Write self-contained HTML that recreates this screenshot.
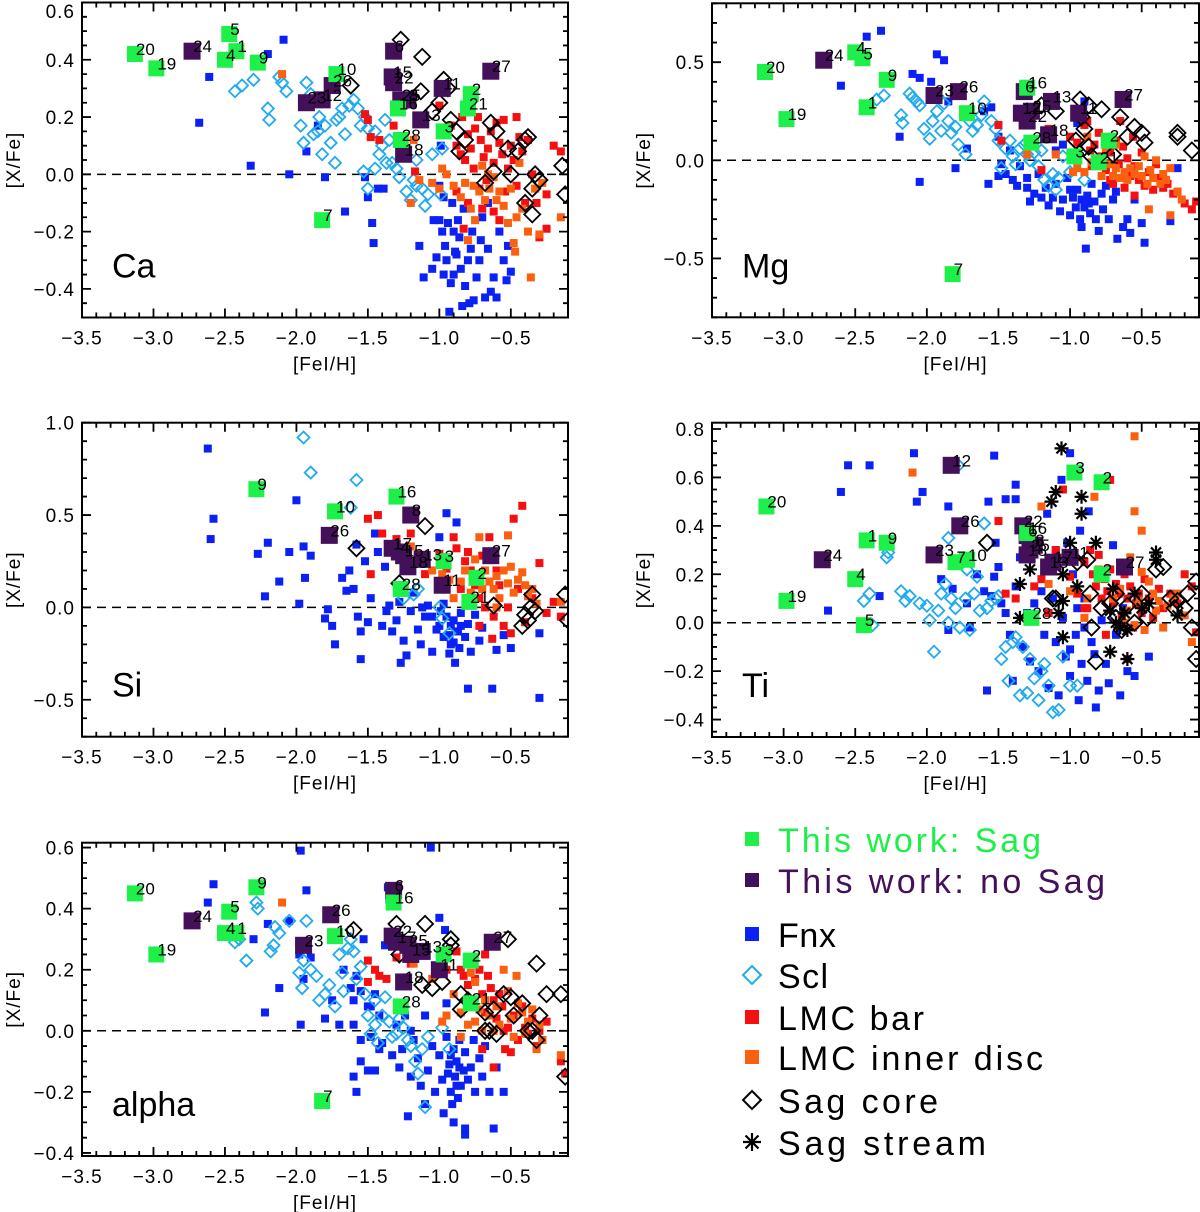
<!DOCTYPE html>
<html><head><meta charset="utf-8"><title>Abundance ratios</title>
<style>
html,body{margin:0;padding:0;background:#fff;}
svg{display:block;font-family:"Liberation Sans",sans-serif;}
</style></head>
<body>
<svg id="fig" width="1200" height="1212" viewBox="0 0 1200 1212" xmlns="http://www.w3.org/2000/svg"></svg>
<script>
// ---------- Shared ----------
const xTickLabels = ["\u22123.5","\u22123.0","\u22122.5","\u22122.0","\u22121.5","\u22121.0","\u22120.5"];
const xTickValues = [-3.5,-3.0,-2.5,-2.0,-1.5,-1.0,-0.5];

// ---------- Ca ----------
const caGreen = [[-3.13,0.42,"20"],[-2.98,0.37,"19"],[-2.47,0.49,"5"],[-2.42,0.43,"1"],[-2.5,0.40,"4"],[-2.27,0.39,"9"],[-1.72,0.35,"10"],[-0.97,0.15,"3"],[-0.78,0.28,"2"],[-0.8,0.23,"21"],[-1.27,0.12,"28"],[-1.29,0.23,"16"],[-1.82,-0.16,"7"]];
const caPurple = [[-2.73,0.43,"24"],[-1.93,0.25,"23"],[-1.82,0.26,"12"],[-1.75,0.31,"26"],[-1.32,0.43,"6"],[-1.33,0.34,"15"],[-1.32,0.32,"22"],[-1.27,0.26,"25"],[-1.22,0.26,"8"],[-0.98,0.30,"11"],[-1.13,0.19,"13"],[-1.25,0.07,"18"],[-0.64,0.36,"27"]];
const caBlue = [[-2.61,0.34],[-2.68,0.18],[-2.2,0.42],[-2.09,0.47],[-2.32,0.03],[-2.05,0.0],[-1.93,0.08],[-1.85,0.17],[-1.8,-0.01],[-1.66,-0.13],[-1.52,-0.01],[-1.5,-0.08],[-1.47,-0.17],[-1.46,-0.24],[-1.43,-0.05],[-1.39,-0.05],[-1.14,-0.25],[-1.11,-0.36],[-1.05,-0.33],[-1.02,-0.29],[-1.0,-0.16],[-0.98,-0.2],[-0.96,-0.25],[-0.95,-0.3],[-0.93,-0.48],[-0.92,-0.38],[-0.9,-0.35],[-0.88,-0.28],[-0.87,-0.16],[-0.86,-0.22],[-0.85,-0.33],[-0.84,-0.46],[-0.82,-0.39],[-0.8,-0.3],[-0.79,-0.45],[-0.78,-0.26],[-0.77,-0.2],[-0.76,-0.44],[-0.74,-0.36],[-0.72,-0.3],[-0.71,-0.23],[-0.7,-0.15],[-0.68,-0.43],[-0.66,-0.26],[-0.64,-0.41],[-0.62,-0.36],[-0.6,-0.43],[-0.58,-0.2],[-0.55,-0.3],[-0.53,-0.37],[-0.5,-0.34],[-0.52,-0.25],[-0.97,-0.08],[-0.91,-0.1],[-0.83,-0.12],[-0.66,-0.1],[-0.99,0.1],[-1.0,-0.04],[-0.94,-0.17],[-0.89,-0.27],[-1.04,-0.16],[-0.97,-0.35],[-0.9,-0.2]];
const caCyan = [[-2.43,0.29],[-2.38,0.31],[-2.3,0.33],[-2.2,0.23],[-2.19,0.19],[-2.12,0.34],[-2.1,0.32],[-2.07,0.29],[-1.97,0.17],[-1.95,0.11],[-1.93,0.32],[-1.9,0.28],[-1.88,0.14],[-1.85,0.15],[-1.84,0.2],[-1.82,0.07],[-1.8,0.17],[-1.76,0.11],[-1.73,0.04],[-1.72,0.19],[-1.7,0.2],[-1.68,0.23],[-1.66,0.14],[-1.63,0.24],[-1.6,0.26],[-1.57,0.23],[-1.55,0.17],[-1.52,0.2],[-1.5,0.16],[-1.53,0.01],[-1.5,-0.05],[-1.45,0.02],[-1.42,0.07],[-1.4,0.1],[-1.37,0.04],[-1.35,0.12],[-1.33,0.04],[-1.3,0.02],[-1.28,-0.01],[-1.26,0.07],[-1.23,-0.06],[-1.2,-0.09],[-1.18,-0.02],[-1.16,-0.04],[-1.12,-0.05],[-1.1,-0.11],[-1.08,-0.07],[-1.05,0.07],[-0.99,-0.07],[-0.98,0.09],[-1.16,0.05],[-1.38,0.19],[-1.45,0.15]];
const caRed = [[-1.52,0.21],[-1.5,0.19],[-1.48,0.13],[-1.42,0.12],[-1.32,0.17],[-1.17,0.01],[-1.1,0.2],[-1.0,0.24],[-0.92,0.17],[-0.88,0.1],[-0.85,0.07],[-0.82,0.05],[-0.8,0.14],[-0.78,0.09],[-0.76,0.02],[-0.75,0.16],[-0.73,0.2],[-0.71,0.12],[-0.69,0.06],[-0.67,-0.02],[-0.66,0.09],[-0.64,0.15],[-0.62,0.04],[-0.6,0.18],[-0.58,0.11],[-0.56,0.07],[-0.54,-0.06],[-0.52,0.02],[-0.5,0.1],[-0.48,0.05],[-0.46,-0.04],[-0.44,0.13],[-0.42,0.08],[-0.4,-0.1],[-0.38,0.12],[-0.35,0.0],[-0.32,-0.1],[-0.3,-0.22],[-0.25,-0.19],[-0.2,0.1],[-0.15,0.08],[-0.55,0.19],[-0.88,-0.06],[-0.8,-0.1],[-0.7,-0.12],[-0.62,-0.13],[-0.58,-0.16],[-0.83,-0.19],[-0.72,-0.05],[-0.25,-0.07],[-0.46,0.2],[-0.84,0.2]];
const caOrange = [[-2.1,0.35],[-1.2,-0.1],[-1.14,-0.02],[-1.05,-0.03],[-1.0,-0.05],[-0.98,0.02],[-0.95,0.0],[-0.9,-0.04],[-0.85,-0.08],[-0.82,-0.03],[-0.8,-0.23],[-0.78,-0.12],[-0.75,-0.16],[-0.72,-0.06],[-0.7,0.03],[-0.68,-0.09],[-0.65,-0.05],[-0.62,-0.01],[-0.6,-0.09],[-0.58,-0.06],[-0.55,-0.11],[-0.52,-0.17],[-0.5,-0.05],[-0.48,-0.24],[-0.47,-0.27],[-0.46,-0.15],[-0.44,0.04],[-0.42,-0.12],[-0.38,-0.2],[-0.36,-0.36],[-0.33,-0.05],[-0.3,-0.21],[-0.28,-0.03],[-0.15,-0.15],[-1.18,0.12],[-0.76,-0.04],[-0.66,0.0]];
const caCore = [[-1.27,0.47],[-1.12,0.41],[-1.62,0.31],[-0.97,0.33],[-0.94,0.3],[-1.13,0.29],[-1.0,0.25],[-1.05,0.22],[-0.92,0.19],[-0.88,0.15],[-0.82,0.12],[-0.86,0.08],[-0.64,0.18],[-0.6,0.15],[-0.52,0.09],[-0.45,0.08],[-0.4,0.12],[-0.38,0.13],[-0.68,-0.03],[-0.62,0.01],[-0.5,0.0],[-0.35,-0.05],[-0.3,-0.02],[-0.4,-0.1],[-0.35,-0.14],[-0.33,0.0],[-0.14,0.03],[-0.12,-0.07]];
const caStream = [];

// ---------- Mg ----------
const mgGreen = [[-3.13,0.45,"20"],[-2.98,0.21,"19"],[-2.5,0.55,"4"],[-2.45,0.52,"5"],[-2.42,0.27,"1"],[-2.28,0.41,"9"],[-1.72,0.24,"10"],[-1.3,0.37,"16"],[-1.27,0.09,"28"],[-0.97,0.02,"3"],[-0.73,0.1,"2"],[-0.8,-0.01,"21"],[-1.82,-0.58,"7"]];
const mgPurple = [[-2.72,0.51,"24"],[-1.95,0.33,"23"],[-1.78,0.35,"26"],[-1.13,0.3,"13"],[-1.34,0.24,"12"],[-1.3,0.2,"22"],[-1.27,0.25,"25"],[-0.94,0.24,"11"],[-1.15,0.13,"18"],[-0.63,0.31,"27"],[-1.32,0.35,"6"]];
const mgBlue = [[-2.6,0.38],[-2.42,0.63],[-2.32,0.66],[-2.19,0.12],[-2.1,0.44],[-2.05,0.42],[-2.05,-0.11],[-1.97,0.4],[-1.93,0.54],[-1.88,0.51],[-1.85,0.3],[-1.8,-0.04],[-1.72,0.06],[-1.6,0.25],[-1.57,-0.12],[-1.55,0.27],[-1.5,-0.08],[-1.48,-0.02],[-1.45,-0.07],[-1.42,0.05],[-1.4,-0.1],[-1.37,-0.13],[-1.35,-0.03],[-1.3,-0.09],[-1.28,-0.21],[-1.25,-0.17],[-1.22,-0.07],[-1.2,-0.19],[-1.17,-0.14],[-1.15,-0.23],[-1.12,-0.19],[-1.1,-0.12],[-1.07,-0.26],[-1.05,-0.2],[-1.02,-0.09],[-1.0,-0.28],[-0.98,-0.19],[-0.96,-0.24],[-0.95,-0.15],[-0.93,-0.3],[-0.92,-0.34],[-0.9,-0.24],[-0.89,-0.45],[-0.88,-0.18],[-0.86,-0.27],[-0.85,-0.12],[-0.83,-0.21],[-0.82,-0.3],[-0.8,-0.36],[-0.78,-0.17],[-0.77,-0.25],[-0.75,-0.13],[-0.73,-0.3],[-0.7,-0.2],[-0.68,-0.16],[-0.67,-0.4],[-0.63,-0.34],[-0.6,-0.3],[-0.58,-0.37],[-0.55,-0.2],[-0.5,-0.32],[-0.48,-0.42],[-0.3,-0.31],[-0.25,-0.04],[-1.05,0.08],[-1.1,0.05],[-0.9,0.3],[-0.95,0.19],[-1.5,0.12],[-1.3,-0.14],[-0.92,-0.2],[-0.87,-0.22],[-1.0,-0.15]];
const mgCyan = [[-2.35,0.31],[-2.3,0.33],[-2.18,0.23],[-2.17,0.19],[-2.12,0.34],[-2.1,0.32],[-2.07,0.3],[-2.05,0.28],[-2.02,0.16],[-1.98,0.11],[-1.96,0.2],[-1.93,0.25],[-1.9,0.15],[-1.88,0.29],[-1.85,0.2],[-1.83,0.14],[-1.8,0.17],[-1.78,0.08],[-1.73,0.03],[-1.7,0.2],[-1.68,0.15],[-1.65,0.18],[-1.62,0.23],[-1.6,0.3],[-1.55,0.2],[-1.52,0.16],[-1.5,0.1],[-1.48,-0.04],[-1.45,0.06],[-1.42,0.1],[-1.4,0.02],[-1.38,-0.02],[-1.35,0.06],[-1.32,0.08],[-1.3,0.03],[-1.28,0.0],[-1.25,0.04],[-1.22,-0.03],[-1.2,0.05],[-1.18,-0.1],[-1.15,-0.13],[-1.12,-0.07],[-1.1,-0.15],[-1.08,-0.09],[-1.05,0.02],[-0.9,-0.1],[-1.0,-0.06]];
const mgRed = [[-1.5,0.18],[-1.48,0.1],[-1.35,0.26],[-1.2,-0.05],[-1.15,0.16],[-1.0,0.12],[-0.95,0.09],[-0.9,0.18],[-0.88,0.2],[-0.86,0.05],[-0.85,-0.03],[-0.83,0.08],[-0.8,0.14],[-0.78,0.02],[-0.75,-0.05],[-0.72,0.04],[-0.7,-0.12],[-0.68,0.1],[-0.66,-0.02],[-0.63,0.07],[-0.62,-0.14],[-0.6,0.01],[-0.58,-0.08],[-0.56,0.12],[-0.55,-0.03],[-0.52,-0.1],[-0.5,0.04],[-0.48,-0.13],[-0.45,-0.06],[-0.42,-0.15],[-0.4,-0.02],[-0.38,-0.09],[-0.35,-0.14],[-0.32,-0.12],[-0.28,-0.17],[-0.25,-0.16],[-0.2,-0.22],[-0.15,-0.25],[-0.12,-0.21],[-0.65,0.2],[-0.55,-0.18],[-0.72,-0.1]];
const mgOrange = [[-1.3,0.03],[-1.1,0.03],[-0.98,-0.06],[-0.95,-0.04],[-0.9,-0.06],[-0.85,-0.01],[-0.8,-0.03],[-0.78,-0.08],[-0.75,0.06],[-0.72,-0.02],[-0.7,-0.08],[-0.68,-0.04],[-0.65,-0.09],[-0.62,-0.06],[-0.6,-0.1],[-0.58,-0.04],[-0.55,-0.07],[-0.52,-0.03],[-0.5,-0.08],[-0.48,0.02],[-0.46,-0.12],[-0.44,-0.05],[-0.42,-0.09],[-0.4,0.0],[-0.37,-0.12],[-0.35,-0.07],[-0.33,-0.1],[-0.3,-0.28],[-0.3,-0.04],[-0.25,-0.16],[-0.22,-0.2],[-0.45,-0.25],[-0.88,0.12],[-0.68,0.08]];
const mgCore = [[-0.93,0.31],[-0.87,0.28],[-0.78,0.26],[-0.92,0.22],[-0.65,0.22],[-0.55,0.17],[-0.5,0.14],[-0.6,0.12],[-0.48,0.09],[-0.96,0.1],[-0.87,0.07],[-0.85,0.02],[-0.7,0.03],[-0.25,0.14],[-0.25,0.12],[-0.15,0.05],[-1.2,0.28],[-1.1,0.25],[-0.9,0.16]];
const mgStream = [];

// ---------- Si ----------
const siGreen = [[-2.28,0.64,"9"],[-1.73,0.52,"10"],[-1.3,0.6,"16"],[-0.97,0.25,"3"],[-0.74,0.16,"2"],[-1.27,0.1,"28"],[-0.79,0.03,"21"]];
const siPurple = [[-1.77,0.39,"26"],[-1.2,0.5,"8"],[-1.33,0.32,"17"],[-1.28,0.3,"4"],[-1.25,0.28,"15"],[-1.12,0.26,"13"],[-1.22,0.22,"18"],[-0.98,0.12,"11"],[-0.64,0.28,"27"]];
const siBlue = [[-2.62,0.86],[-2.6,0.37],[-2.58,0.48],[-2.27,0.29],[-2.2,0.35],[-2.22,0.06],[-2.12,0.14],[-2.05,0.3],[-2.0,0.58],[-1.98,0.02],[-1.95,0.33],[-1.94,0.16],[-1.9,0.28],[-1.8,-0.06],[-1.78,-0.01],[-1.75,-0.1],[-1.73,-0.2],[-1.68,0.16],[-1.65,0.09],[-1.63,0.2],[-1.6,0.1],[-1.58,0.34],[-1.57,-0.05],[-1.55,-0.13],[-1.55,-0.28],[-1.52,0.25],[-1.5,-0.08],[-1.48,0.05],[-1.45,0.4],[-1.43,0.3],[-1.4,-0.1],[-1.38,0.22],[-1.37,-0.02],[-1.35,0.01],[-1.33,-0.13],[-1.3,-0.07],[-1.28,0.03],[-1.27,-0.3],[-1.25,-0.18],[-1.23,-0.26],[-1.2,-0.02],[-1.18,0.08],[-1.15,-0.12],[-1.13,-0.2],[-1.1,-0.05],[-1.08,0.01],[-1.05,-0.24],[-1.02,-0.12],[-1.0,0.38],[-0.99,-0.02],[-0.97,-0.16],[-0.95,0.51],[-0.93,-0.25],[-0.92,-0.2],[-0.9,-0.07],[-0.89,-0.3],[-0.88,0.46],[-0.87,-0.13],[-0.86,-0.22],[-0.85,-0.03],[-0.82,-0.16],[-0.8,-0.09],[-0.78,-0.24],[-0.75,-0.04],[-0.72,-0.18],[-0.7,-0.11],[-0.8,-0.44],[-0.63,-0.44],[-0.6,-0.23],[-0.55,-0.15],[-0.5,-0.22],[-0.3,-0.49],[-0.3,-0.14],[-1.0,-0.1],[-0.95,-0.05],[-0.93,-0.15],[-0.9,-0.19],[-0.85,-0.1],[-0.97,0.02],[-1.05,-0.05],[-0.92,-0.1],[-1.12,0.0]];
const siCyan = [[-1.95,0.92],[-1.9,0.73],[-1.58,0.69],[-1.62,0.54],[-1.25,0.05],[-1.18,0.07],[-1.15,0.1],[-0.98,-0.06],[-0.93,-0.14],[-1.0,0.0]];
const siRed = [[-1.5,0.48],[-1.43,0.5],[-1.4,0.4],[-1.3,0.37],[-1.2,0.4],[-1.1,0.18],[-1.0,0.29],[-0.95,0.21],[-0.9,0.38],[-0.88,0.32],[-0.85,0.1],[-0.82,0.25],[-0.8,0.3],[-0.78,0.2],[-0.75,0.12],[-0.72,0.05],[-0.7,0.28],[-0.68,0.0],[-0.65,0.38],[-0.62,-0.05],[-0.6,0.2],[-0.58,0.12],[-0.55,-0.1],[-0.52,0.0],[-0.5,-0.14],[-0.48,0.48],[-0.45,0.1],[-0.42,0.55],[-0.4,-0.08],[-0.35,0.05],[-0.3,0.24],[-0.25,-0.03],[-0.2,0.03],[-0.15,-0.05],[-0.63,-0.17],[-0.72,-0.1],[-1.48,0.18]];
const siOrange = [[-1.2,0.33],[-1.15,0.29],[-1.05,0.2],[-0.98,0.18],[-0.93,0.15],[-0.9,0.05],[-0.85,0.14],[-0.82,0.2],[-0.78,0.08],[-0.75,0.26],[-0.72,0.16],[-0.7,0.1],[-0.68,0.2],[-0.65,0.14],[-0.62,0.1],[-0.6,0.17],[-0.58,0.05],[-0.55,0.2],[-0.52,0.13],[-0.5,0.22],[-0.48,0.08],[-0.45,0.15],[-0.42,0.19],[-0.4,0.12],[-0.38,0.06],[-0.35,0.1],[-0.32,0.02],[-0.15,0.03],[-0.52,0.39],[-0.72,0.38],[-0.6,0.0]];
const siCore = [[-1.1,0.44],[-1.58,0.32],[-1.28,0.13],[-0.62,0.01],[-0.35,0.07],[-0.4,-0.04],[-0.38,-0.07],[-0.36,0.0],[-0.33,-0.02],[-0.42,-0.1],[-0.12,0.07],[-0.1,-0.07]];
const siStream = [];

// ---------- Ti ----------
const tiGreen = [[-3.12,0.48,"20"],[-2.98,0.09,"19"],[-2.5,0.18,"4"],[-2.44,-0.01,"5"],[-2.42,0.34,"1"],[-2.28,0.33,"9"],[-1.8,0.25,"7"],[-1.72,0.26,"10"],[-0.97,0.62,"3"],[-0.78,0.58,"2"],[-1.27,0.02,"28"],[-0.78,0.2,"2"],[-1.3,0.37,"16"]];
const tiPurple = [[-1.83,0.65,"12"],[-1.77,0.4,"26"],[-2.73,0.26,"24"],[-1.95,0.28,"23"],[-1.33,0.4,"22"],[-1.3,0.36,"6"],[-1.25,0.32,"8"],[-1.28,0.3,"25"],[-1.3,0.28,"18"],[-1.15,0.23,"13"],[-1.0,0.27,"11"],[-0.62,0.23,"27"],[-1.12,0.25,"17"]];
const tiBlue = [[-2.55,0.65],[-2.4,0.65],[-2.6,0.54],[-2.69,0.05],[-2.33,0.11],[-2.09,0.7],[-2.03,0.54],[-2.07,0.5],[-1.85,0.48],[-1.53,0.69],[-1.57,0.5],[-1.45,0.51],[-1.38,0.51],[-1.38,0.57],[-1.9,0.18],[-1.82,0.14],[-1.85,-0.03],[-1.72,0.08],[-1.7,-0.02],[-1.65,0.2],[-1.6,0.13],[-1.58,-0.28],[-1.55,0.11],[-1.53,0.19],[-1.52,0.33],[-1.5,0.23],[-1.48,0.08],[-1.45,0.04],[-1.42,-0.05],[-1.4,-0.24],[-1.38,0.15],[-1.35,0.27],[-1.33,-0.1],[-1.3,0.04],[-1.28,-0.16],[-1.25,0.08],[-1.22,-0.2],[-1.2,0.13],[-1.18,-0.05],[-1.16,0.45],[-1.15,-0.27],[-1.12,0.1],[-1.1,-0.08],[-1.08,-0.3],[-1.06,0.59],[-1.05,0.02],[-1.03,-0.14],[-1.0,0.7],[-1.0,-0.22],[-0.98,0.2],[-0.96,-0.05],[-0.94,-0.32],[-0.93,0.38],[-0.92,-0.17],[-0.9,0.1],[-0.88,-0.24],[-0.87,0.46],[-0.85,-0.08],[-0.83,-0.13],[-0.82,-0.35],[-0.8,-0.28],[-0.78,0.01],[-0.75,-0.17],[-0.73,-0.25],[-0.7,0.32],[-0.68,-0.05],[-0.65,-0.3],[-0.63,0.06],[-0.6,-0.2],[-0.55,-0.22],[-0.45,-0.14],[-1.0,-0.11],[-0.95,0.06],[-1.02,0.33],[-1.1,0.3],[-0.9,-0.02]];
const tiCyan = [[-2.44,0.09],[-2.4,0.12],[-2.38,-0.01],[-2.28,0.27],[-2.27,0.29],[-2.18,0.13],[-2.15,0.09],[-2.12,0.11],[-2.05,0.08],[-2.0,0.07],[-1.98,0.01],[-1.95,-0.12],[-1.92,0.05],[-1.9,0.12],[-1.87,0.16],[-1.85,0.0],[-1.83,0.1],[-1.8,0.06],[-1.77,-0.02],[-1.73,0.1],[-1.7,-0.03],[-1.67,0.12],[-1.65,0.19],[-1.63,0.05],[-1.6,0.41],[-1.58,0.06],[-1.55,0.09],[-1.52,0.1],[-1.5,0.11],[-1.48,-0.15],[-1.45,-0.1],[-1.43,-0.24],[-1.4,-0.08],[-1.38,-0.06],[-1.35,-0.3],[-1.33,-0.1],[-1.3,-0.29],[-1.28,-0.15],[-1.25,-0.23],[-1.22,-0.32],[-1.2,-0.2],[-1.18,-0.17],[-1.15,-0.26],[-1.12,-0.37],[-1.08,-0.36],[-1.05,-0.14],[-1.0,-0.26],[-0.95,-0.26],[-1.78,0.65],[-1.85,0.35],[-1.72,0.22]];
const tiRed = [[-1.5,0.42],[-1.45,0.12],[-1.38,0.1],[-1.3,0.35],[-1.25,0.15],[-1.2,0.18],[-1.15,0.04],[-1.1,0.3],[-1.05,0.55],[-1.0,0.19],[-0.95,0.12],[-0.9,0.25],[-0.88,0.06],[-0.86,0.3],[-0.84,0.2],[-0.82,0.15],[-0.8,0.28],[-0.78,0.1],[-0.76,0.18],[-0.74,0.13],[-0.72,0.22],[-0.7,0.08],[-0.68,0.16],[-0.66,0.12],[-0.64,0.03],[-0.62,0.2],[-0.6,0.1],[-0.58,0.15],[-0.56,-0.02],[-0.54,0.08],[-0.52,0.12],[-0.5,0.04],[-0.48,0.18],[-0.45,0.1],[-0.42,0.02],[-0.38,0.14],[-0.35,0.06],[-0.3,0.12],[-0.25,0.08],[-0.2,0.2],[-0.15,0.15],[-0.12,-0.04],[-0.72,0.59],[-0.9,0.06],[-0.6,-0.15],[-0.75,-0.05]];
const tiOrange = [[-2.1,0.62],[-1.2,0.48],[-0.88,0.1],[-0.83,0.52],[-0.55,0.46],[-0.55,0.77],[-0.5,0.38],[-0.5,0.21],[-0.45,0.17],[-0.42,0.12],[-0.4,0.05],[-0.38,0.09],[-0.35,-0.02],[-0.32,0.07],[-0.28,0.1],[-0.25,0.12],[-0.2,0.03],[-0.15,-0.08],[-0.7,0.1],[-0.65,0.14],[-0.6,0.05],[-0.58,0.27],[-0.52,0.09],[-0.48,-0.03],[-0.55,-0.01],[-0.62,0.0],[-0.8,0.22],[-0.9,0.02],[-1.0,0.13],[-1.15,0.16]];
const tiCore = [[-1.58,0.33],[-1.1,0.1],[-0.95,0.25],[-0.88,0.26],[-0.82,-0.16],[-0.86,0.12],[-0.85,-0.02],[-0.78,0.06],[-0.72,0.08],[-0.68,0.02],[-0.64,-0.03],[-0.6,0.07],[-0.55,0.0],[-0.5,0.12],[-0.46,0.02],[-0.4,0.22],[-0.35,0.23],[-0.3,0.1],[-0.27,0.06],[-0.25,0.09],[-0.2,0.06],[-0.18,0.12],[-0.12,0.17],[-0.15,-0.02],[-0.12,-0.15],[-0.68,0.12],[-1.12,0.1]];
const tiStream = [[-1.06,0.72],[-1.1,0.54],[-1.13,0.5],[-0.92,0.52],[-0.92,0.45],[-0.82,0.33],[-1.0,0.33],[-1.28,0.22],[-1.35,0.16],[-1.05,0.2],[-0.98,0.26],[-0.95,0.15],[-1.05,0.09],[-1.08,0.04],[-1.35,0.02],[-1.05,-0.06],[-0.7,0.14],[-0.72,0.05],[-0.68,0.0],[-0.65,-0.02],[-0.62,0.04],[-0.6,-0.03],[-0.55,0.12],[-0.5,0.06],[-0.72,-0.12],[-0.6,-0.15],[-0.4,0.29],[-0.4,0.26],[-0.25,0.03],[-0.45,0.08]];

// ---------- alpha ----------
const alGreen = [[-3.13,0.45,"20"],[-2.98,0.25,"19"],[-2.28,0.47,"9"],[-2.47,0.39,"5"],[-2.5,0.32,"4"],[-2.42,0.32,"1"],[-1.73,0.31,"10"],[-1.32,0.42,"16"],[-0.97,0.25,"3"],[-0.78,0.23,"2"],[-1.27,0.08,"28"],[-0.78,0.09,"21"],[-1.82,-0.23,"7"]];
const alPurple = [[-2.73,0.36,"24"],[-1.95,0.28,"23"],[-1.76,0.38,"26"],[-1.32,0.46,"6"],[-1.33,0.31,"22"],[-1.3,0.29,"17"],[-1.22,0.28,"25"],[-1.2,0.25,"15"],[-1.0,0.2,"11"],[-1.25,0.16,"18"],[-0.63,0.29,"27"],[-1.12,0.26,"13"]];
const alBlue = [[-2.58,0.48],[-2.62,0.42],[-2.2,0.35],[-2.3,0.3],[-1.97,0.59],[-1.93,0.46],[-2.05,0.36],[-2.12,0.14],[-2.22,0.06],[-1.98,0.25],[-1.95,0.17],[-1.9,0.24],[-1.97,0.02],[-1.8,0.04],[-1.75,0.1],[-1.7,0.02],[-1.67,0.2],[-1.62,0.14],[-1.6,0.1],[-1.58,0.18],[-1.55,0.13],[-1.53,0.3],[-1.5,0.08],[-1.48,-0.02],[-1.45,0.12],[-1.42,0.05],[-1.4,-0.04],[-1.38,0.28],[-1.36,0.47],[-1.35,0.43],[-1.33,-0.08],[-1.3,0.02],[-1.28,-0.12],[-1.26,-0.06],[-1.24,0.05],[-1.22,-0.28],[-1.2,-0.15],[-1.18,-0.03],[-1.15,-0.09],[-1.13,-0.18],[-1.1,-0.24],[-1.08,-0.13],[-1.06,0.6],[-1.05,-0.05],[-1.03,-0.2],[-1.0,0.37],[-1.0,-0.08],[-0.98,-0.16],[-0.97,-0.27],[-0.96,0.33],[-0.95,-0.02],[-0.93,-0.11],[-0.92,-0.2],[-0.91,-0.24],[-0.9,-0.06],[-0.89,-0.15],[-0.88,-0.1],[-0.87,-0.22],[-0.86,-0.03],[-0.85,-0.18],[-0.83,-0.13],[-0.82,-0.07],[-0.8,-0.16],[-0.78,-0.12],[-0.76,-0.03],[-0.75,-0.2],[-0.72,-0.09],[-0.7,-0.15],[-0.68,-0.05],[-0.65,-0.2],[-0.62,-0.32],[-0.6,-0.12],[-0.55,-0.2],[-0.82,-0.34],[-0.82,-0.32],[-1.6,-0.15],[-1.58,-0.2],[-1.55,-0.1],[-1.5,-0.13],[-1.45,-0.13],[-1.42,-0.06],[-1.55,-0.03],[-1.6,0.02],[-1.48,0.08],[-1.2,0.0],[-1.1,0.05],[-0.95,0.09],[-0.9,-0.3],[-0.94,-0.14],[-0.88,-0.18],[-0.86,-0.12],[-0.92,-0.08]];
const alCyan = [[-2.28,0.42],[-2.27,0.4],[-2.35,0.23],[-2.4,0.3],[-2.43,0.29],[-2.15,0.34],[-2.12,0.32],[-2.18,0.26],[-2.16,0.28],[-2.05,0.36],[-1.93,0.36],[-1.95,0.23],[-1.98,0.19],[-1.96,0.14],[-1.9,0.2],[-1.86,0.18],[-1.84,0.1],[-1.8,0.12],[-1.77,0.15],[-1.73,0.08],[-1.7,0.25],[-1.68,0.19],[-1.67,0.13],[-1.64,0.27],[-1.62,0.3],[-1.6,0.26],[-1.58,0.17],[-1.55,0.21],[-1.52,0.12],[-1.5,0.05],[-1.48,-0.01],[-1.45,0.02],[-1.43,-0.04],[-1.4,0.05],[-1.38,0.11],[-1.35,0.03],[-1.33,-0.02],[-1.3,-0.01],[-1.28,0.04],[-1.25,0.01],[-1.22,-0.03],[-1.2,-0.05],[-1.17,-0.1],[-1.15,-0.14],[-1.12,-0.06],[-1.1,-0.25],[-1.08,-0.02],[-0.98,0.01],[-0.93,-0.06],[-1.45,0.1]];
const alRed = [[-1.5,0.23],[-1.45,0.2],[-1.42,0.18],[-1.37,0.17],[-1.5,0.16],[-1.3,0.24],[-1.2,0.22],[-0.88,0.26],[-0.85,0.2],[-0.83,0.18],[-0.8,0.15],[-0.78,0.1],[-0.75,0.17],[-0.72,0.2],[-0.7,0.12],[-0.68,0.06],[-0.66,0.18],[-0.64,0.14],[-0.62,0.1],[-0.6,0.04],[-0.58,0.12],[-0.56,0.08],[-0.54,-0.06],[-0.52,0.01],[-0.5,-0.07],[-0.48,0.05],[-0.45,-0.03],[-0.42,0.08],[-0.4,0.01],[-0.38,-0.01],[-0.35,0.04],[-0.32,-0.05],[-0.3,0.0],[-0.28,-0.03],[-0.25,0.03],[-0.15,-0.1],[-0.12,-0.14],[-0.7,-0.06],[-0.62,-0.12],[-0.55,0.0],[-0.95,0.2],[-0.68,0.25]];
const alOrange = [[-2.1,0.42],[-1.18,0.22],[-1.05,0.17],[-0.98,0.03],[-0.95,0.05],[-0.9,0.12],[-0.85,0.06],[-0.8,0.02],[-0.78,0.19],[-0.75,0.03],[-0.72,0.07],[-0.7,0.0],[-0.68,0.1],[-0.65,0.05],[-0.62,0.0],[-0.6,0.08],[-0.58,0.02],[-0.55,0.2],[-0.52,0.13],[-0.5,0.04],[-0.48,-0.02],[-0.45,0.09],[-0.42,0.06],[-0.4,-0.01],[-0.38,0.03],[-0.35,0.07],[-0.32,-0.06],[-0.3,0.02],[-0.28,-0.03],[-0.15,-0.08],[-0.75,0.16],[-0.85,-0.02],[-0.46,0.18]];
const alCore = [[-1.6,0.33],[-1.3,0.35],[-1.1,0.35],[-1.28,0.25],[-0.92,0.3],[-0.92,0.28],[-0.98,0.16],[-1.12,0.15],[-1.05,0.14],[-0.85,0.12],[-0.8,0.1],[-0.85,0.07],[-0.68,0.06],[-0.52,0.3],[-0.32,0.22],[-0.55,0.12],[-0.5,0.11],[-0.62,0.07],[-0.65,0.0],[-0.6,-0.01],[-0.48,0.05],[-0.42,0.09],[-0.38,0.0],[-0.35,0.0],[-0.32,-0.03],[-0.3,0.05],[-0.25,0.12],[-0.15,0.12],[-0.12,-0.15],[-0.68,0.0]];
const alStream = [];

// ---------- Drawing ----------
const NS = "http://www.w3.org/2000/svg";
const svg = document.getElementById("fig");
const C = {green:"#1ef04a", purple:"#45105a", blue:"#0a20f5", cyan:"#22aaee", red:"#f41010", orange:"#fa6010"};

function mk(tag, attrs, parent){
  const e = document.createElementNS(NS, tag);
  for (const k in attrs) e.setAttribute(k, attrs[k]);
  (parent||svg).appendChild(e);
  return e;
}
function fmt(v, dec){ const s = Math.abs(v).toFixed(dec); return (v < -1e-9 ? "\u2212" : "") + s; }

const panels = [
  {id:"ca", name:"Ca", L:82, R:568, T:2.5, B:317.5, ymin:-0.5, ymax:0.6, major:0.2, minor:0.05, dec:1, ytickVals:[-0.4,-0.2,0.0,0.2,0.4,0.6], green:caGreen, purple:caPurple, blue:caBlue, cyan:caCyan, red:caRed, orange:caOrange, core:caCore, stream:caStream},
  {id:"mg", name:"Mg", L:712, R:1199, T:3.3, B:317.3, ymin:-0.8, ymax:0.8, major:0.5, minor:0.1, dec:1, ytickVals:[-0.5,0.0,0.5], green:mgGreen, purple:mgPurple, blue:mgBlue, cyan:mgCyan, red:mgRed, orange:mgOrange, core:mgCore, stream:mgStream},
  {id:"si", name:"Si", L:82, R:568, T:422.7, B:736.7, ymin:-0.7, ymax:1.0, major:0.5, minor:0.1, dec:1, ytickVals:[-0.5,0.0,0.5,1.0], green:siGreen, purple:siPurple, blue:siBlue, cyan:siCyan, red:siRed, orange:siOrange, core:siCore, stream:siStream},
  {id:"ti", name:"Ti", L:712, R:1199, T:422.7, B:737, ymin:-0.472, ymax:0.826, major:0.2, minor:0.05, dec:1, ytickVals:[-0.4,-0.2,0.0,0.2,0.4,0.6,0.8], green:tiGreen, purple:tiPurple, blue:tiBlue, cyan:tiCyan, red:tiRed, orange:tiOrange, core:tiCore, stream:tiStream},
  {id:"alpha", name:"alpha", L:82, R:568, T:842.7, B:1156, ymin:-0.41, ymax:0.616, major:0.2, minor:0.05, dec:1, ytickVals:[-0.4,-0.2,0.0,0.2,0.4,0.6], green:alGreen, purple:alPurple, blue:alBlue, cyan:alCyan, red:alRed, orange:alOrange, core:alCore, stream:alStream}
];

panels.forEach(p => {
  const xmin = -3.5, xmax = -0.1;
  const sx = v => p.L + (v - xmin) / (xmax - xmin) * (p.R - p.L);
  const sy = v => p.B - (v - p.ymin) / (p.ymax - p.ymin) * (p.B - p.T);
  const g = mk("g", {});
  
  

  const clip = mk("clipPath", {id:"clip-"+p.id}, g);
  mk("rect", {x:p.L, y:p.T, width:p.R-p.L, height:p.B-p.T}, clip);

  const zl = mk("line", {x1:p.L, x2:p.R, y1:sy(0), y2:sy(0), stroke:"#000", "stroke-width":1.5, "stroke-dasharray":"9,6"}, g);
  
  

  const pts = mk("g", {"clip-path":"url(#clip-"+p.id+")"}, g);
  
  

  function sq(arr, color, size, nm){
    arr.forEach(d => {
      const r = mk("rect", {x:sx(d[0])-size/2, y:sy(d[1])-size/2, width:size, height:size, fill:color}, pts);
      
      
    });
  }
  function dia(arr, color, h, sw, nm){
    arr.forEach(d => {
      const cx = sx(d[0]), cy = sy(d[1]);
      const e = mk("polygon", {points:`${cx},${cy-h} ${cx+h},${cy} ${cx},${cy+h} ${cx-h},${cy}`, fill:"none", stroke:color, "stroke-width":sw}, pts);
      
      
    });
  }
  function star(arr, nm){
    arr.forEach(d => {
      const cx = sx(d[0]), cy = sy(d[1]), r = 7;
      const s = mk("path", {d:`M${cx-r},${cy}H${cx+r}M${cx},${cy-r}V${cy+r}M${cx-r*0.72},${cy-r*0.72}L${cx+r*0.72},${cy+r*0.72}M${cx-r*0.72},${cy+r*0.72}L${cx+r*0.72},${cy-r*0.72}`, stroke:"#000", "stroke-width":2.2, fill:"none"}, pts);
      
      
    });
  }
  sq(p.blue, C.blue, 8, "fnx-point");
  dia(p.cyan, C.cyan, 6, 1.8, "scl-point");
  sq(p.red, C.red, 8, "lmc-bar-point");
  sq(p.orange, C.orange, 8, "lmc-disc-point");
  dia(p.core, "#000", 8, 1.8, "sag-core-point");
  star(p.stream, "sag-stream-point");
  sq(p.purple, C.purple, 17, "this-work-nosag-point");
  sq(p.green, C.green, 16, "this-work-sag-point");
  [p.purple, p.green].forEach(arr => arr.forEach(d => {
    const t = mk("text", {x:sx(d[0])+1, y:sy(d[1])+1, "font-size":17, fill:"#000"}, pts);
    t.textContent = d[2];
    
    
  }));

  const fr = mk("rect", {x:p.L, y:p.T, width:p.R-p.L, height:p.B-p.T, fill:"none", stroke:"#000", "stroke-width":2}, g);
  
  

  let tp = "";
  for (let v = -3.5; v <= -0.1 + 1e-6; v += 0.1) {
    const isMaj = Math.abs(Math.round(v*2) - v*2) < 1e-6;
    const len = isMaj ? 9 : 5;
    const x = sx(v);
    tp += `M${x},${p.B}V${p.B-len}M${x},${p.T}V${p.T+len}`;
  }
  const n0 = Math.ceil(p.ymin / p.minor - 1e-6), n1 = Math.floor(p.ymax / p.minor + 1e-6);
  for (let n = n0; n <= n1; n++) {
    const v = n * p.minor;
    const isMaj = Math.abs(Math.round(v / p.major) - v / p.major) < 1e-6;
    const len = isMaj ? 9 : 5;
    const y = sy(v);
    tp += `M${p.L},${y}H${p.L+len}M${p.R},${y}H${p.R-len}`;
  }
  const tk = mk("path", {d:tp, stroke:"#000", "stroke-width":1.8, fill:"none"}, g);
  
  

  xTickValues.forEach((v, i) => {
    const t = mk("text", {x:sx(v), y:p.B+27, "font-size":19, "letter-spacing":"1", "text-anchor":"middle", fill:"#000"}, g);
    t.textContent = xTickLabels[i];
    
    
  });
  p.ytickVals.forEach(v => {
    const t = mk("text", {x:p.L-7, y:Math.max(sy(v)+7, 18), "font-size":19, "letter-spacing":"1", "text-anchor":"end", fill:"#000"}, g);
    t.textContent = fmt(v, p.dec);
    
    
  });
  const xt = mk("text", {x:(p.L+p.R)/2, y:p.B+53, "font-size":19, "letter-spacing":"1", "text-anchor":"middle", fill:"#000"}, g);
  xt.textContent = "[FeI/H]";
  
  
  const yc = (p.T+p.B)/2, yx = p.L - 62;
  const yt = mk("text", {x:yx, y:yc, "font-size":19, "letter-spacing":"1", "text-anchor":"middle", fill:"#000", transform:`rotate(-90 ${yx} ${yc})`}, g);
  yt.textContent = "[X/Fe]";
  
  
  const el = mk("text", {x:p.L+30, y:p.B-40, "font-size":34, fill:"#000"}, g);
  el.textContent = p.name;
  
  
});

// ---------- Legend ----------
const legendLabels = ["This work: Sag","This work: no Sag","Fnx","Scl","LMC bar","LMC inner disc","Sag core","Sag stream"];
const legendWidths = [263,327,58,50,146,265,160,208];
const legendBaselines = [852,893,947,988,1030,1070,1113,1155];
const legendColors = [C.green, C.purple, "#000","#000","#000","#000","#000","#000"];
const legendMarks = ["sq:"+C.green,"sq:"+C.purple,"sq:"+C.blue,"dia:"+C.cyan,"sq:"+C.red,"sq:"+C.orange,"dia:#000","star"];
const lg = mk("g", {});


legendLabels.forEach((lab, i) => {
  const by = legendBaselines[i], cy = by - 13, cx = 752;
  const m = legendMarks[i];
  let e;
  if (m.startsWith("sq:")) e = mk("rect", {x:cx-7, y:cy-7, width:14, height:14, fill:m.slice(3)}, lg);
  else if (m.startsWith("dia:")) e = mk("polygon", {points:`${cx},${cy-9} ${cx+9},${cy} ${cx},${cy+9} ${cx-9},${cy}`, fill:"none", stroke:m.slice(4), "stroke-width":2}, lg);
  else { const r=9; e = mk("path", {d:`M${cx-r},${cy}H${cx+r}M${cx},${cy-r}V${cy+r}M${cx-r*0.72},${cy-r*0.72}L${cx+r*0.72},${cy+r*0.72}M${cx-r*0.72},${cy+r*0.72}L${cx+r*0.72},${cy-r*0.72}`, stroke:"#000","stroke-width":2.2}, lg); }
  
  
  const t = mk("text", {x:778, y:by, "font-size":34, fill:legendColors[i], textLength:legendWidths[i], lengthAdjust:"spacing"}, lg);
  t.textContent = lab;
  
  
});
</script>
</body></html>
